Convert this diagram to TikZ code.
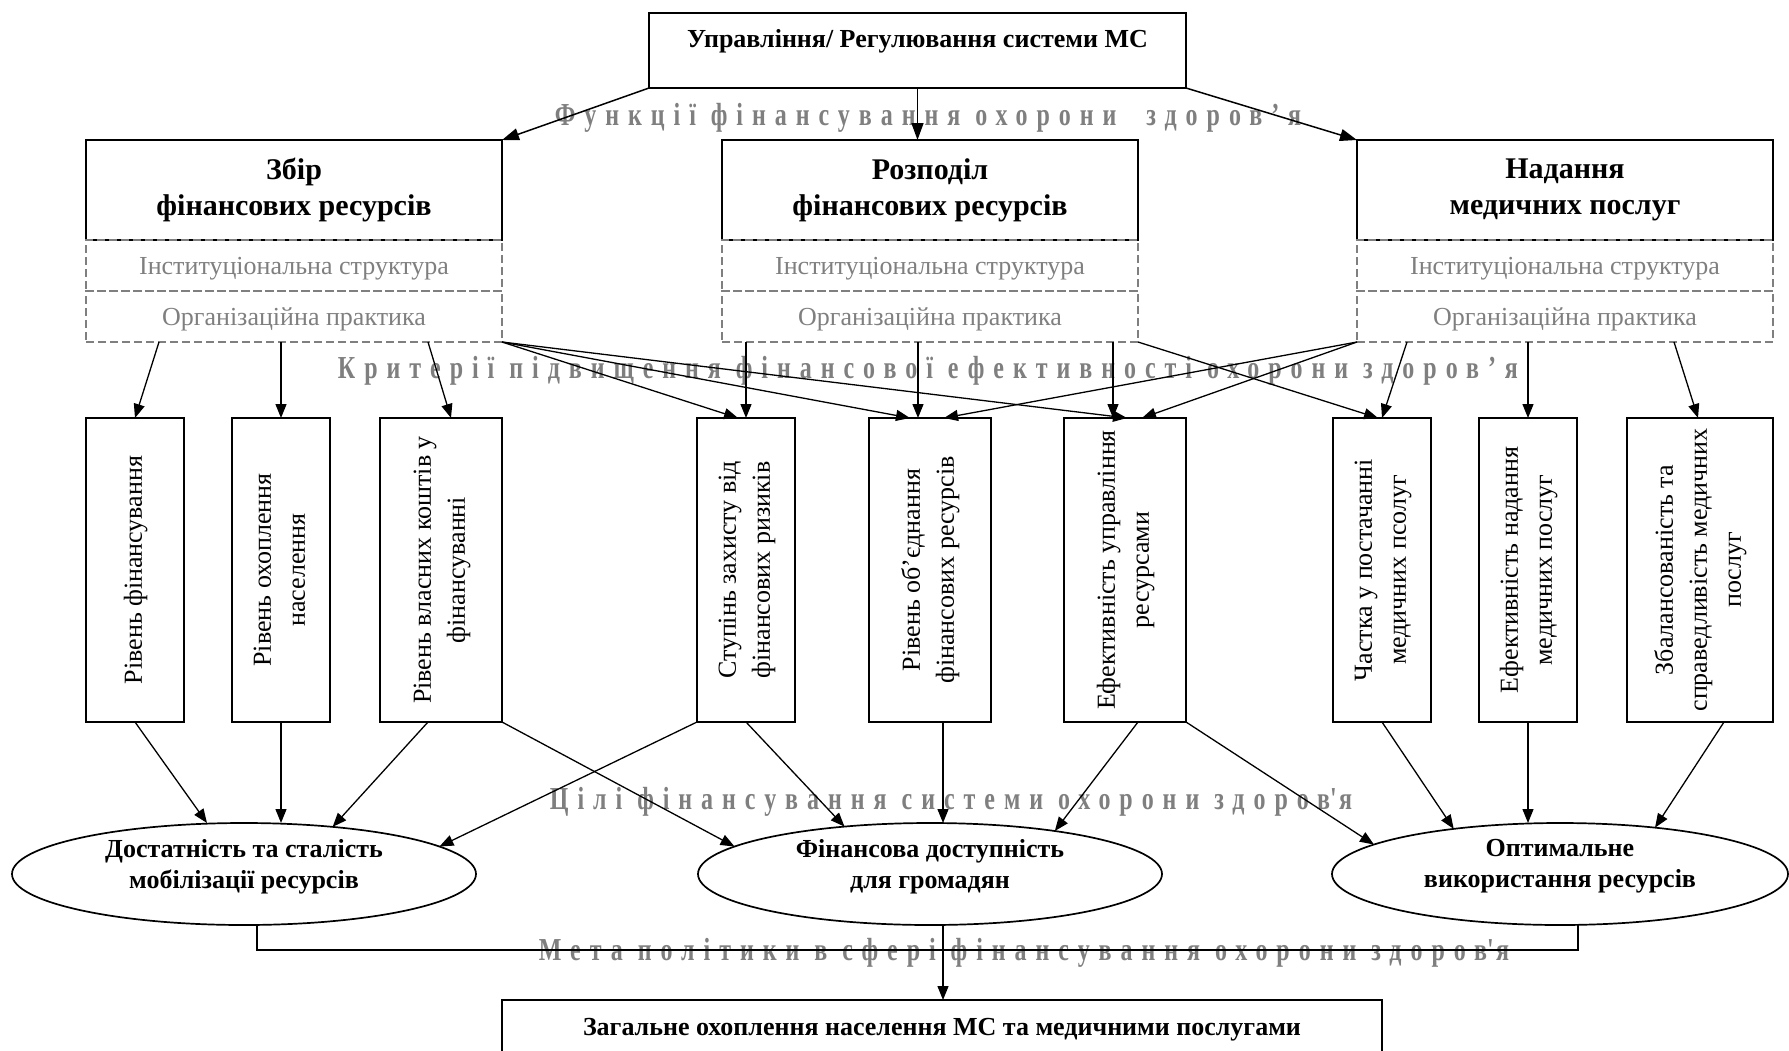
\documentclass[tikz,border=0pt]{standalone}
\usepackage{fontspec}
\setmainfont{Liberation Serif}
\newfontfamily\hdrfont[LetterSpace=28, FakeStretch=0.75]{Liberation Serif}
\usepackage{graphicx}
\usetikzlibrary{arrows.meta,positioning,shapes.geometric}
\definecolor{txtGray}{HTML}{7F7F7F}
\newcommand{\vtext}[1]{\rotatebox{90}{\begin{tabular}{@{}c@{}}#1\end{tabular}}}

\begin{document}
\begin{tikzpicture}[x=1pt, y=-1pt,
    every node/.style={font=\fontsize{26}{31}\selectfont, outer sep=0pt},
    box/.style={draw, line width=1.7pt, inner sep=0pt},
    fbox/.style={box, minimum width=416pt, minimum height=100pt, align=center, font=\fontsize{30}{36}\selectfont\bfseries},
    frow/.style={draw=txtGray, dash pattern=on 8pt off 4pt, line width=1.3pt, minimum width=416pt, minimum height=51pt, text=txtGray, inner sep=0pt, text height=24pt},
    krbox/.style={box, minimum height=304pt, font=\fontsize{26}{34}\selectfont},
    goal/.style={draw, ellipse, line width=1.7pt, minimum width=464pt, minimum height=102pt, inner sep=0pt, align=center, font=\fontsize{26}{31}\selectfont\bfseries, text depth=21pt},
    hdr/.style={text=txtGray, font=\fontsize{32}{36}\selectfont\hdrfont\bfseries},
    arr/.style={-{Triangle[length=14pt,width=11pt]}, line width=1.3pt},
    arrbig/.style={-{Triangle[length=17pt,width=12pt]}, line width=1.5pt}]
  \useasboundingbox (0,0) rectangle (1789,1050);
  \clip (0,0) rectangle (1789,1050);

  \node[hdr] (h1) at (928,118) {Функції фінансування охорони\ \ здоров’я};
  \node[hdr] (h2) at (928,371) {Критерії підвищення фінансової ефективності охорони здоров’я};
  \node[hdr] (h3) at (951,802) {Цілі фінансування системи охорони здоров\textquotesingle я};
  \node[hdr] (h4) at (1024,953) {Мета політики в сфері фінансування охорони здоров\textquotesingle я};

  \node[box, minimum width=537pt, minimum height=75pt, font=\fontsize{26}{31}\selectfont\bfseries, text depth=24pt] (ctrl) at (917.5,50.5) {Управління/ Регулювання системи МС};

  \node[fbox] (zbir) at (294,190) {Збір\\фінансових ресурсів};
  \node[frow, below=0pt of zbir] (zbirI) {Інституціональна структура};
  \node[frow, below=0pt of zbirI] (zbirO) {Організаційна практика};
  \node[fbox] (rozp) at (930,190) {Розподіл\\фінансових ресурсів};
  \node[frow, below=0pt of rozp] (rozpI) {Інституціональна структура};
  \node[frow, below=0pt of rozpI] (rozpO) {Організаційна практика};
  \node[fbox] (nad) at (1565,190) {Надання\\медичних послуг};
  \node[frow, below=0pt of nad] (nadI) {Інституціональна структура};
  \node[frow, below=0pt of nadI] (nadO) {Організаційна практика};

  \node[krbox, minimum width=98pt] (kr1) at (135,570) {\vtext{Рівень фінансування}};
  \node[krbox, minimum width=98pt] (kr2) at (281,570) {\vtext{Рівень охоплення\\населення}};
  \node[krbox, minimum width=122pt] (kr3) at (441,570) {\vtext{Рівень власних коштів у\\фінансуванні}};
  \node[krbox, minimum width=98pt] (kr4) at (746,570) {\vtext{Ступінь захисту від\\фінансових ризиків}};
  \node[krbox, minimum width=122pt] (kr5) at (930,570) {\vtext{Рівень об’єднання\\фінансових ресурсів}};
  \node[krbox, minimum width=122pt] (kr6) at (1125,570) {\vtext{Ефективність управління\\ресурсами}};
  \node[krbox, minimum width=98pt] (kr7) at (1382,570) {\vtext{Частка у постачанні\\медичних псолуг}};
  \node[krbox, minimum width=98pt] (kr8) at (1528,570) {\vtext{Ефективність надання\\медичних послуг}};
  \node[krbox, minimum width=146pt] (kr9) at (1700,570) {\vtext{Збалансованість та\\справедливість медичних\\послуг}};

  \node[goal] (g1) at (244,874) {Достатність та сталість\\мобілізації ресурсів};
  \node[goal] (g2) at (930,874) {Фінансова доступність\\для громадян};
  \node[goal, minimum width=456pt] (g3) at (1560,874) {Оптимальне\\використання ресурсів};

  \node[box, minimum width=880pt, minimum height=60pt, font=\fontsize{26}{31}\selectfont\bfseries] (fin) at (942,1030) {Загальне охоплення населення МС та медичними послугами};

  \draw[arrbig] (ctrl.south west) -- (zbir.north east);
  \draw[arrbig] (ctrl.south) -- (ctrl.south |- rozp.north);
  \draw[arrbig] (ctrl.south east) -- (nad.north west);

  \draw[arr] ([xshift=-135pt]zbirO.south) -- (kr1.north);
  \draw[arr] (kr2.north |- zbirO.south) -- (kr2.north);
  \draw[arr] ([xshift=-13pt]kr3.north |- zbirO.south) -- ([xshift=10pt]kr3.north);
  \draw[arr] (zbirO.south east) -- ([xshift=-8pt]kr4.north);
  \draw[arr] (zbirO.south east) -- ([xshift=-20pt]kr5.north);
  \draw[arr] (zbirO.south east) -- ([xshift=2pt]kr6.north);
  \draw[arr] (kr4.north |- rozpO.south) -- (kr4.north);
  \draw[arr] ([xshift=-12pt]kr5.north |- rozpO.south) -- ([xshift=-12pt]kr5.north);
  \draw[arr] ([xshift=-12pt]kr6.north |- rozpO.south) -- ([xshift=-12pt]kr6.north);
  \draw[arr] (rozpO.south east) -- ([xshift=-4pt]kr7.north);
  \draw[arr] (nadO.south west) -- ([xshift=14pt]kr5.north);
  \draw[arr] (nadO.south west) -- ([xshift=17pt]kr6.north);
  \draw[arr] ([xshift=50pt]nadO.south west) -- (kr7.north);
  \draw[arr] (kr8.north |- nadO.south) -- (kr8.north);
  \draw[arr] ([xshift=-26pt]kr9.north |- nadO.south) -- ([xshift=-2pt]kr9.north);

  \draw[arr] (kr1.south) -- ([xshift=-37pt]g1.north);
  \draw[arr] (kr2.south) -- (kr2.south |- g1.north);
  \draw[arr] ([xshift=-13pt]kr3.south) -- (g1.28);
  \draw[arr] (kr3.south east) -- (g2.172);
  \draw[arr] (kr4.south west) -- (g1.8);
  \draw[arr] (kr4.south) -- (g2.151);
  \draw[arr] ([xshift=13pt]kr5.south) -- ([xshift=13pt]kr5.south |- g2.north);
  \draw[arr] ([xshift=13pt]kr6.south) -- (g2.19);
  \draw[arr] (kr6.south east) -- (g3.171);
  \draw[arr] (kr7.south) -- (g3.157);
  \draw[arr] (kr8.south) -- (kr8.south |- g3.north);
  \draw[arr] ([xshift=24pt]kr9.south) -- (g3.26);

  \coordinate (jn) at (943,950);
  \draw[line width=1.3pt] ([xshift=13pt]g1.south) |- (jn) -| ([xshift=18pt]g3.south);
  \draw[arr] ([xshift=13pt]g2.south) -- ([xshift=13pt]g2.south |- fin.north);
\end{tikzpicture}
\end{document}
